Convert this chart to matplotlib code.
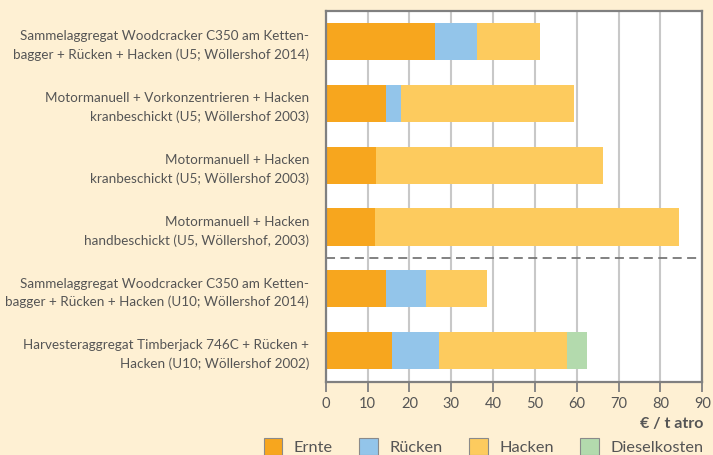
import matplotlib.pyplot as plt
from matplotlib.patches import Patch

plt.rcParams['font.family'] = ['Lato', 'DejaVu Sans']

# data (top to bottom)
labels = [
    "Sammelaggregat Woodcracker C350 am Ketten-\nbagger + Rücken + Hacken (U5; Wöllershof 2014)",
    "Motormanuell + Vorkonzentrieren + Hacken\nkranbeschickt (U5; Wöllershof 2003)",
    "Motormanuell + Hacken\nkranbeschickt (U5; Wöllershof 2003)",
    "Motormanuell + Hacken\nhandbeschickt (U5, Wöllershof, 2003)",
    "Sammelaggregat Woodcracker C350 am Ketten-\nbagger + Rücken + Hacken (U10; Wöllershof 2014)",
    "Harvesteraggregat Timberjack 746C + Rücken +\nHacken (U10; Wöllershof 2002)",
]
ernte = [26.0, 14.3, 11.9, 11.7, 14.3, 15.7]
ruecken = [10.1, 3.6, 0.0, 0.0, 9.6, 11.3]
hacken = [15.1, 41.4, 54.3, 72.7, 14.6, 30.6]
diesel = [0.0, 0.0, 0.0, 0.0, 0.0, 4.8]

series = ["Ernte", "Rücken", "Hacken", "Dieselkosten"]
colors = ["#F7A61E", "#93C5EA", "#FDCB5E", "#B3DAAD"]

bg = "#FEF0D3"
txt = "#555555"

fig = plt.figure(figsize=(7.13, 4.55), dpi=100, facecolor=bg)
ax = fig.add_axes([0.457, 0.1615, 0.528, 0.815])
ax.set_facecolor("white")

y = list(range(len(labels)))
left = [0.0] * len(labels)
for vals, c in zip([ernte, ruecken, hacken, diesel], colors):
    ax.barh(y, vals, left=left, height=0.6, color=c, zorder=3)
    left = [l + v for l, v in zip(left, vals)]

ax.set_xlim(0, 90)
ax.set_ylim(5.5, -0.5)
ax.set_xticks(range(0, 91, 10))
ax.grid(axis='x', color="#c8c8c8", linewidth=1.5, zorder=1)
ax.axhline(3.5, color="#777777", linestyle=(0, (5, 3)), linewidth=1.3, zorder=4)

ax.set_yticks(y)
ax.set_yticklabels(labels, fontsize=9.7, color=txt, linespacing=1.6)
ax.tick_params(axis='y', length=0, pad=12)
ax.tick_params(axis='x', length=7, width=1.3, color="#808080",
               labelsize=10.5, labelcolor=txt, pad=4)

for s in ax.spines.values():
    s.set_color("#808080")
    s.set_linewidth(1.6)
    s.set_zorder(5)

fig.text(0.986, 0.068, "€ / t atro", ha='right', va='center',
         fontsize=11.5, fontweight='bold', color=txt)

handles = [Patch(facecolor=c, edgecolor="#8a8a8a", linewidth=0.8) for c in colors]
fig.legend(handles, series, loc='center right', bbox_to_anchor=(0.996, 0.018),
           ncol=4, frameon=False, fontsize=11.8, labelcolor=txt,
           handlelength=1.15, handleheight=1.15, handletextpad=0.7,
           columnspacing=1.6, borderaxespad=0)

fig.savefig("out.png", dpi=100, facecolor=bg)
